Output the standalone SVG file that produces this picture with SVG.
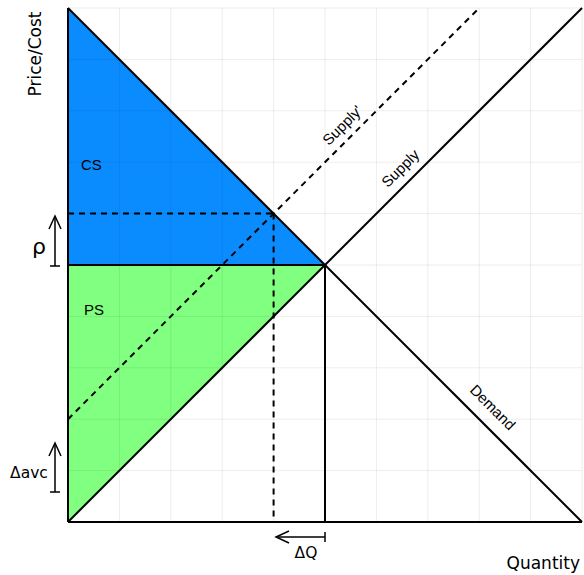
<svg xmlns="http://www.w3.org/2000/svg" width="584" height="575" viewBox="0 0 584 575">
<style>
.grid{stroke:#000;stroke-opacity:0.07;stroke-width:1;fill:none}
.ln{stroke:#000;stroke-width:2;fill:none}
.dash{stroke:#000;stroke-width:2;fill:none;stroke-dasharray:6,5}
.thin{stroke:#000;stroke-width:1.5;fill:none}
.lbl{font-family:"Liberation Sans",Arial,sans-serif;font-size:15px;fill:#000}
.ax{font-family:"DejaVu Sans","Liberation Sans",sans-serif;font-size:17px;fill:#000}
.sm{font-family:"DejaVu Sans","Liberation Sans",sans-serif;font-size:15.5px;fill:#000}
.rho{font-family:"DejaVu Sans","Liberation Sans",sans-serif;font-size:22px;fill:#000}
</style>
<rect width="584" height="575" fill="#fff"/>
<g id="areas">
<polygon points="68,8 325,265 68,265" fill="#0a8cff"/>
<polygon points="68,265 325,265 68,522" fill="#80ff80"/>
</g>
<g id="grid" class="grid">
<path d="M119.4,8V522M170.8,8V522M222.2,8V522M273.6,8V522M325,8V522M376.4,8V522M427.8,8V522M479.2,8V522M530.6,8V522M582,8V522"/>
<path d="M68,470.6H582M68,419.2H582M68,367.8H582M68,316.4H582M68,265H582M68,213.6H582M68,162.2H582M68,110.8H582M68,59.4H582M68,8H582"/>
</g>
<g id="connectors">
<line class="ln" x1="68" y1="8" x2="68" y2="522"/>
<line class="ln" x1="68" y1="522" x2="582" y2="522"/>
<line id="demand" class="ln" x1="68" y1="8" x2="582" y2="522"/>
<line id="supply" class="ln" x1="68" y1="522" x2="582" y2="8"/>
<line id="supply2" class="dash" x1="68" y1="419.2" x2="479.2" y2="8"/>
<line class="ln" x1="68" y1="265" x2="325" y2="265"/>
<line class="ln" x1="325" y1="265" x2="325" y2="522"/>
<line class="dash" x1="68" y1="213.6" x2="273.6" y2="213.6"/>
<line class="dash" x1="273.6" y1="213.6" x2="273.6" y2="522"/>
<g id="rho-arrow">
<path class="thin" d="M55,266V218M50,266H60"/>
<path class="thin" d="M49,229L55,216L61,229"/>
</g>
<g id="avc-arrow">
<path class="thin" d="M55,492V445M50,492H60"/>
<path class="thin" d="M49,456L55,443L61,456"/>
</g>
<g id="q-arrow">
<path class="thin" d="M325,537H278M325,532V542"/>
<path class="thin" d="M289,531L276,537L289,543"/>
</g>
</g>
<g id="labels">
<text class="ax" transform="translate(41,54) rotate(-90)" text-anchor="middle">Price/Cost</text>
<text class="ax" x="580" y="569" text-anchor="end">Quantity</text>
<text class="lbl" x="81" y="170">CS</text>
<text class="lbl" x="84" y="315">PS</text>
<text class="rho" x="39" y="254" text-anchor="middle">ρ</text>
<text class="sm" x="29" y="478" text-anchor="middle">Δavc</text>
<text class="sm" x="306" y="558" text-anchor="middle">ΔQ</text>
<text class="lbl" transform="translate(404,172) rotate(-45)" text-anchor="middle">Supply</text>
<text class="lbl" transform="translate(346,129) rotate(-45)" text-anchor="middle">Supply'</text>
<text class="lbl" transform="translate(489,411) rotate(45)" text-anchor="middle">Demand</text>
</g>
</svg>
